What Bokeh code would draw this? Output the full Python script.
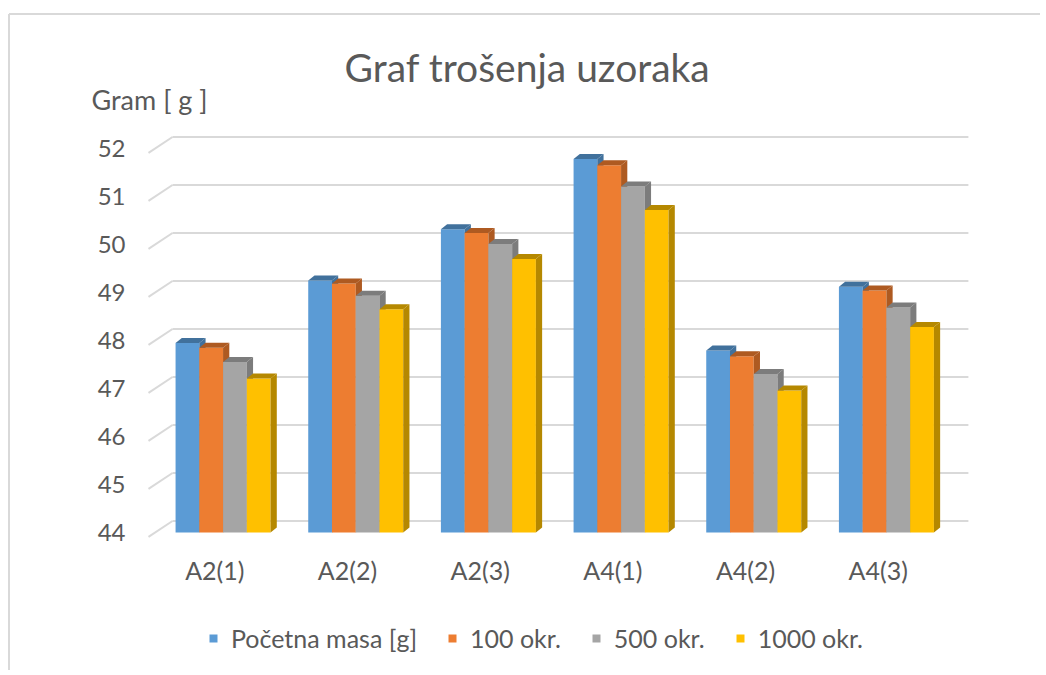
from bokeh.plotting import figure
from bokeh.models import (Range1d, FixedTicker, Legend, LegendItem, Label)
from bokeh.embed import file_html
from bokeh.resources import INLINE

# ---- data ----
categories = ["A2(1)", "A2(2)", "A2(3)", "A4(1)", "A4(2)", "A4(3)"]
series_names = ["Početna masa [g]", "100 okr.", "500 okr.", "1000 okr."]
pocetna = [47.95, 49.25, 50.32, 51.78, 47.79, 49.12]
okr100 = [47.85, 49.19, 50.24, 51.65, 47.67, 49.04]
okr500 = [47.55, 48.93, 50.01, 51.21, 47.30, 48.69]
okr1000 = [47.21, 48.65, 49.70, 50.72, 46.96, 48.28]
y_ticks = [44, 45, 46, 47, 48, 49, 50, 51, 52]

series_values = [pocetna, okr100, okr500, okr1000]
front_colors = ["#5B9BD5", "#ED7D31", "#A5A5A5", "#FFC000"]
side_colors = ["#41719C", "#AE5A21", "#7C7C7C", "#B58800"]

FONT = "Lato"
TXT = "#595959"

W, H = 1040, 670
SX = 132.67   # px per category
SY = 48.0     # px per gram
p = figure(width=W, height=H, output_backend="svg", toolbar_location=None,
           x_range=Range1d(-148 / SX, (W - 148) / SX),
           y_range=Range1d(44 - (H - 532) / SY, 44 + 532 / SY),
           min_border_left=0, min_border_right=0, min_border_top=0,
           min_border_bottom=0, title=None)
p.outline_line_color = None
p.xgrid.visible = False
p.ygrid.visible = False

# ---- axes ----
n = len(categories)
p.yaxis.fixed_location = 0
p.yaxis.ticker = FixedTicker(ticks=y_ticks)
p.yaxis.axis_line_color = None
p.yaxis.major_tick_line_color = None
p.yaxis.major_tick_out = 0
p.yaxis.major_tick_in = 0
p.yaxis.minor_tick_line_color = None
p.yaxis.major_label_standoff = 23
p.yaxis.major_label_text_font = FONT
p.yaxis.major_label_text_font_size = "24px"
p.yaxis.major_label_text_color = TXT

p.xaxis.fixed_location = 44
p.xaxis.ticker = FixedTicker(ticks=[i + 0.5 for i in range(n)])
p.xaxis.major_label_overrides = {i + 0.5: c for i, c in enumerate(categories)}
p.xaxis.axis_line_color = None
p.xaxis.major_tick_line_color = None
p.xaxis.major_tick_out = 0
p.xaxis.major_tick_in = 0
p.xaxis.minor_tick_line_color = None
p.xaxis.major_label_standoff = 22
p.xaxis.major_label_text_font = FONT
p.xaxis.major_label_text_font_size = "25px"
p.xaxis.major_label_text_color = TXT

# ---- chart border (left and top) ----
bx = (8.5 - 148) / SX
by = 44 + (532 - 13.5) / SY
p.segment(x0=[bx, bx], y0=[44 - (H - 532) / SY, by], x1=[bx, (W - 148) / SX], y1=[by, by],
          line_color="#D9D9D9", line_width=2)

# ---- 3D walls: back gridlines and slanted wall lines ----
back_dy = 0.24
front_dy = -0.09
back_x0, back_x1 = 0.181, 6.18
grid_col = "#D9D9D9"
p.segment(x0=[back_x0] * len(y_ticks), y0=[v + back_dy for v in y_ticks],
          x1=[back_x1] * len(y_ticks), y1=[v + back_dy for v in y_ticks],
          line_color=grid_col, line_width=2)
p.segment(x0=[0] * len(y_ticks), y0=[v + front_dy for v in y_ticks],
          x1=[back_x0] * len(y_ticks), y1=[v + back_dy for v in y_ticks],
          line_color=grid_col, line_width=2)

# ---- bars ----
base = 44
shift = 0.062
bw = 0.179
ddx = 0.047
ddy = 0.104
legend_items = []
for s, vals in enumerate(series_values):
    x0s = [i + 0.5 + shift + (s - 2) * bw for i in range(n)]
    x1s = [x + bw for x in x0s]
    fr = p.quad(left=x0s, right=x1s, bottom=[base] * n, top=vals,
                fill_color=front_colors[s], line_color=None)
    side_xs = [[x1, x1 + ddx, x1 + ddx, x1] for x1 in x1s]
    side_ys = [[base, base + ddy, v + ddy, v] for v in vals]
    p.patches(xs=side_xs, ys=side_ys, fill_color=side_colors[s], line_color=None)
    top_xs = [[x0, x1, x1 + ddx, x0 + ddx] for x0, x1 in zip(x0s, x1s)]
    top_ys = [[v, v, v + ddy, v + ddy] for v in vals]
    p.patches(xs=top_xs, ys=top_ys, fill_color=side_colors[s], line_color=None)
    legend_items.append(LegendItem(label=series_names[s], renderers=[fr]))

legend = Legend(items=legend_items, orientation="horizontal", location=(208, 17),
                label_text_font=FONT, label_text_font_size="25px",
                label_text_color=TXT, glyph_width=10, glyph_height=10,
                label_standoff=13, spacing=30, border_line_color=None,
                background_fill_alpha=0, margin=0, padding=0)
p.add_layout(legend, "center")

# ---- title and unit label ----
p.add_layout(Label(x=(532 - 148) / SX, y=44 + (532 - 66) / SY, text="Graf  trošenja uzoraka",
                   text_align="center", text_baseline="alphabetic",
                   text_font=FONT, text_font_size="39px", text_color=TXT))
p.add_layout(Label(x=(91 - 148) / SX, y=44 + (532 - 99) / SY, text="Gram [ g ]",
                   text_align="left", text_baseline="alphabetic",
                   text_font=FONT, text_font_size="27px", text_color=TXT))

open("out.html", "w").write(file_html(p, INLINE))
